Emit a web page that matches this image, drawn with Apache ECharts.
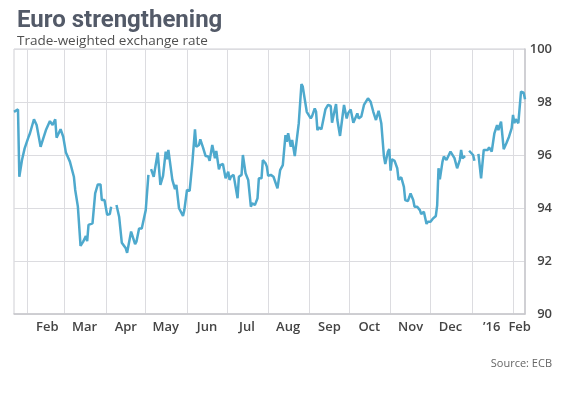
<!DOCTYPE html>
<html>
<head>
<meta charset="utf-8">
<script src="https://cdn.jsdelivr.net/npm/echarts@6/dist/echarts.min.js"></script>
<style>
html,body{margin:0;padding:0;background:#fff;}
#c{width:569px;height:398px;}
</style>
</head>
<body>
<div id="c"></div>
<script>
// Trade-weighted euro exchange rate; null = gap in the series
const dates = [
 "2015-01-22","2015-01-25","2015-01-26","2015-01-28","2015-01-30",
 "2015-02-02","2015-02-03","2015-02-06","2015-02-08","2015-02-09","2015-02-11","2015-02-13","2015-02-15","2015-02-18","2015-02-19","2015-02-20","2015-02-22","2015-02-23","2015-02-26","2015-02-28",
 "2015-03-02","2015-03-03","2015-03-05","2015-03-08","2015-03-09","2015-03-11","2015-03-13","2015-03-15","2015-03-17","2015-03-18","2015-03-19","2015-03-22","2015-03-24","2015-03-26","2015-03-28","2015-03-29","2015-03-31",
 "2015-04-02","2015-04-04","2015-04-05","2015-04-07","2015-04-09","2015-04-10","2015-04-11","2015-04-13","2015-04-16","2015-04-17","2015-04-20","2015-04-23","2015-04-24","2015-04-26","2015-04-28",
 "2015-05-01","2015-05-03","2015-05-04","2015-05-05","2015-05-06","2015-05-07","2015-05-10","2015-05-12","2015-05-14","2015-05-15","2015-05-16","2015-05-17","2015-05-18","2015-05-19","2015-05-21","2015-05-23","2015-05-24","2015-05-26","2015-05-27","2015-05-29","2015-05-30",
 "2015-06-01","2015-06-03","2015-06-05","2015-06-07","2015-06-08","2015-06-10","2015-06-11","2015-06-13","2015-06-15","2015-06-17","2015-06-18","2015-06-20","2015-06-22","2015-06-23","2015-06-25","2015-06-26","2015-06-28","2015-06-30",
 "2015-07-02","2015-07-03","2015-07-04","2015-07-06","2015-07-09","2015-07-10","2015-07-12","2015-07-13","2015-07-15","2015-07-17","2015-07-19","2015-07-20","2015-07-22","2015-07-24","2015-07-25","2015-07-27","2015-07-28","2015-07-30","2015-07-31",
 "2015-08-01","2015-08-03","2015-08-05","2015-08-06","2015-08-08","2015-08-10","2015-08-12","2015-08-14","2015-08-15","2015-08-16","2015-08-18","2015-08-19","2015-08-21","2015-08-22","2015-08-24","2015-08-26","2015-08-27","2015-08-28","2015-08-30","2015-08-31",
 "2015-09-02","2015-09-03","2015-09-05","2015-09-06","2015-09-07","2015-09-08","2015-09-10","2015-09-11","2015-09-13","2015-09-15","2015-09-17","2015-09-18","2015-09-20","2015-09-21","2015-09-22","2015-09-24","2015-09-26","2015-09-27","2015-09-29","2015-09-30",
 "2015-10-02","2015-10-04","2015-10-07","2015-10-08","2015-10-10","2015-10-12","2015-10-13","2015-10-15","2015-10-17","2015-10-19","2015-10-21","2015-10-23","2015-10-24","2015-10-25","2015-10-27","2015-10-28","2015-10-30","2015-10-31",
 "2015-11-01","2015-11-02","2015-11-04","2015-11-06","2015-11-07","2015-11-09","2015-11-11","2015-11-12","2015-11-14","2015-11-16","2015-11-18","2015-11-19","2015-11-21","2015-11-23","2015-11-24","2015-11-26","2015-11-28","2015-11-29",
 "2015-12-01","2015-12-03","2015-12-05","2015-12-06","2015-12-07","2015-12-08","2015-12-10","2015-12-11","2015-12-13","2015-12-16","2015-12-17","2015-12-19","2015-12-21","2015-12-23","2015-12-24","2015-12-25","2015-12-27","2015-12-28","2015-12-30","2015-12-31",
 "2016-01-02","2016-01-03","2016-01-04","2016-01-06","2016-01-08","2016-01-09","2016-01-10","2016-01-11","2016-01-13","2016-01-14","2016-01-16","2016-01-18","2016-01-20","2016-01-21","2016-01-23","2016-01-24","2016-01-25","2016-01-27","2016-01-29","2016-01-31",
 "2016-02-01","2016-02-02","2016-02-03","2016-02-05","2016-02-06","2016-02-07","2016-02-09","2016-02-10"
];
const values = [
 97.63,97.72,95.18,95.81,96.25,
 96.69,96.82,97.35,97.13,97.16,96.31,96.63,96.94,97.28,97.29,97.13,97.35,96.65,96.97,96.69,
 96.09,96.13,95.75,95.18,94.68,94.05,92.57,92.73,92.94,92.75,93.36,93.42,94.55,94.89,94.89,94.30,94.30,
 93.74,93.77,94.05,null,94.11,94.05,93.67,92.69,92.48,92.31,93.11,92.64,92.73,93.23,93.23,
 93.92,95.25,null,95.47,95.43,95.18,96.09,94.87,95.21,95.16,96.13,95.84,96.19,96.25,95.06,94.71,94.87,93.99,93.92,93.70,93.92,
 94.68,94.65,95.69,96.97,96.31,96.38,96.59,96.29,95.96,95.94,95.78,96.38,95.88,96.15,95.46,95.62,95.66,95.12,
 95.37,95.06,95.18,95.25,94.37,95.18,95.25,96.00,95.31,95.06,94.05,94.18,94.11,94.37,95.12,95.12,95.81,95.69,95.56,
 95.21,95.25,95.18,95.18,94.74,95.43,95.62,96.75,96.50,96.82,96.31,96.57,95.96,95.91,97.20,98.68,98.58,98.26,97.63,97.67,
 97.38,97.47,97.76,97.63,96.94,97.04,96.97,96.92,97.72,97.89,97.85,97.22,97.70,97.92,97.32,96.72,97.51,97.89,97.38,97.57,
 97.72,97.22,97.57,97.38,97.45,97.89,97.85,98.14,98.01,97.63,97.32,97.67,97.63,97.20,95.94,95.66,96.13,96.22,
 95.41,95.84,95.78,95.50,95.06,95.16,94.80,94.30,94.26,94.55,94.30,94.05,94.05,93.92,93.77,93.86,93.40,93.48,
 93.48,93.61,93.70,94.10,95.50,95.08,95.75,95.94,95.81,96.13,96.09,95.88,95.50,95.81,96.19,95.88,95.96,null,96.16,96.22,
 96.00,95.78,null,96.04,95.12,95.18,96.19,96.25,96.19,96.29,96.13,96.82,97.13,96.94,97.26,97.26,96.22,96.44,96.69,97.01,
 97.51,97.20,97.35,97.20,97.26,98.39,98.35,98.10
];
// x axis: month boundaries (grid lines) and month labels (mid-month)
const monthStarts = ["2015-02-01","2015-03-01","2015-04-01","2015-05-01","2015-06-01","2015-07-01","2015-08-01","2015-09-01","2015-10-01","2015-11-01","2015-12-01","2016-01-01","2016-02-01"];
const labelDates = ["2015-02-16","2015-03-16","2015-04-16","2015-05-16","2015-06-16","2015-07-16","2015-08-16","2015-09-16","2015-10-16","2015-11-16","2015-12-16","2016-01-16","2016-02-06"];
const labelTexts = ["Feb","Mar","Apr","May","Jun","Jul","Aug","Sep","Oct","Nov","Dec","\u201916","Feb"];
const xStart = "2015-01-22";
const xEnd = "2016-02-10";
const yTicks = [90, 92, 94, 96, 98, 100];

function ts(s){ const p = s.split('-').map(Number); return new Date(p[0], p[1]-1, p[2]).getTime(); }
const seriesData = dates.map((d,i) => [ts(d), values[i]]);
const labelTs = labelDates.map(ts);

const chart = echarts.init(document.getElementById('c'), null, {renderer:'canvas'});
chart.setOption({
  animation: false,
  backgroundColor: '#fff',
  title: [
    {text: 'Euro strengthening', left: 12, top: 4,
     textStyle: {fontFamily: 'Roboto', fontWeight: 'bold', fontSize: 24, color: '#535a68'}},
    {text: 'Trade-weighted exchange rate', left: 12, top: 29,
     textStyle: {fontFamily: 'Open Sans', fontWeight: 'normal', fontSize: 13.5, color: '#505050'}}
  ],
  graphic: [
    {type: 'text', right: 17, top: 358,
     style: {text: 'Source: ECB', font: '11px "Open Sans"', fill: '#666'}}
  ],
  grid: {left: 14, right: 44, top: 49, bottom: 84, show: true, borderColor: '#cfcfd4', borderWidth: 1},
  xAxis: {
    type: 'value',
    min: ts(xStart), max: ts(xEnd),
    axisLine: {show: true, lineStyle: {color: '#c8c8cc', width: 1.5}},
    axisTick: {show: false, customValues: monthStarts.map(ts)},
    splitLine: {show: true, lineStyle: {color: '#dcdce0', width: 1}},
    axisLabel: {
      customValues: labelTs,
      margin: 7,
      fontFamily: 'Open Sans', fontWeight: 600, fontSize: 13, color: '#444',
      formatter: function(v){ const i = labelTs.indexOf(v); return i >= 0 ? labelTexts[i] : ''; }
    }
  },
  yAxis: {
    type: 'value', position: 'right',
    min: yTicks[0], max: yTicks[yTicks.length-1], interval: 2,
    axisLine: {show: true, lineStyle: {color: '#c8c8cc', width: 1.5}},
    axisTick: {show: false},
    splitLine: {show: true, lineStyle: {color: '#dcdce0', width: 1}},
    axisLabel: {
      align: 'right', margin: 27,
      fontFamily: 'Open Sans', fontWeight: 600, fontSize: 13, color: '#444'
    }
  },
  series: [{
    type: 'line',
    data: seriesData,
    showSymbol: false,
    connectNulls: false,
    lineStyle: {color: '#4ea9cd', width: 2.5},
    itemStyle: {color: '#4ea9cd'}
  }]
});
</script>
</body>
</html>
